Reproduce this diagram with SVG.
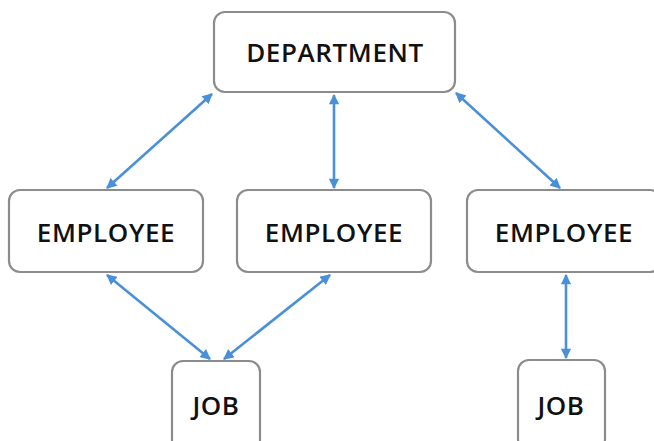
<svg xmlns="http://www.w3.org/2000/svg" width="654" height="441" viewBox="0 0 654 441">
<style>
.box{fill:#fff;stroke:#8c8c8c;stroke-width:2.2}
.lbl{font-family:"Open Sans","Liberation Sans",sans-serif;font-weight:600;font-size:26px;letter-spacing:0.6px;fill:#111;text-anchor:middle}
.con{stroke:#4a90d9;stroke-width:2.6;fill:none;marker-start:url(#ah);marker-end:url(#ah)}
</style>
<defs>
<marker id="ah" viewBox="0 0 10 10" refX="9" refY="5" markerWidth="4.2" markerHeight="4" orient="auto-start-reverse" markerUnits="strokeWidth">
<path d="M0,0 L10,5 L0,10 z" fill="#4a90d9"/>
</marker>
</defs>
<g id="department"><rect class="box" x="214" y="12" width="241" height="80" rx="11"/><text class="lbl" x="335" y="62">DEPARTMENT</text></g>
<g id="employee1"><rect class="box" x="9" y="190" width="194" height="82" rx="11"/><text class="lbl" x="106" y="242">EMPLOYEE</text></g>
<g id="employee2"><rect class="box" x="237" y="190" width="194" height="82" rx="11"/><text class="lbl" x="334" y="242">EMPLOYEE</text></g>
<g id="employee3"><rect class="box" x="467" y="190" width="194" height="82" rx="11"/><text class="lbl" x="564" y="242">EMPLOYEE</text></g>
<g id="job1"><rect class="box" x="172" y="361" width="88" height="90" rx="11"/><text class="lbl" x="216" y="415">JOB</text></g>
<g id="job2"><rect class="box" x="518" y="360" width="87" height="90" rx="11"/><text class="lbl" x="561" y="415">JOB</text></g>
<g id="connectors">
<line class="con" x1="212" y1="94" x2="107" y2="188"/>
<line class="con" x1="334" y1="95" x2="334" y2="188"/>
<line class="con" x1="456" y1="93" x2="560" y2="188"/>
<line class="con" x1="107" y1="275" x2="210" y2="359"/>
<line class="con" x1="330" y1="275" x2="224" y2="359"/>
<line class="con" x1="566" y1="275" x2="566" y2="358"/>
</g>
</svg>
